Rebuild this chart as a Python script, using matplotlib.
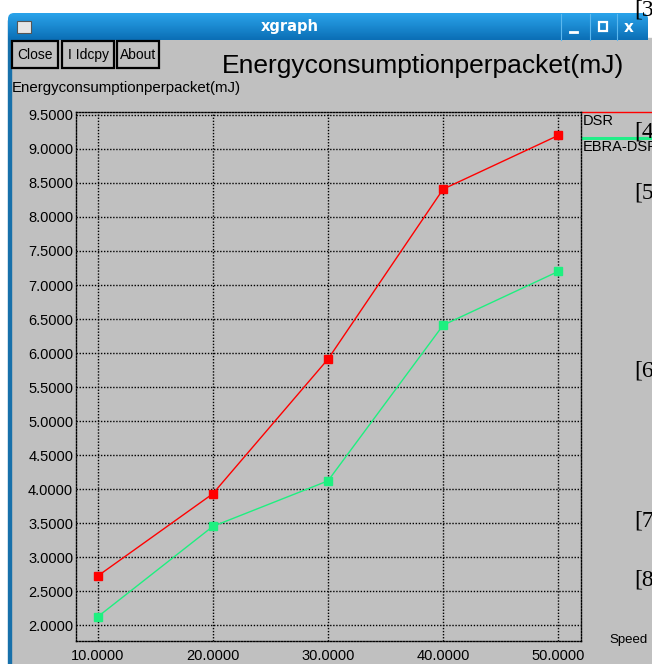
import numpy as np
import matplotlib
matplotlib.use("Agg")
import matplotlib.pyplot as plt
from matplotlib.patches import Rectangle, FancyBboxPatch

# data
speed = [10, 20, 30, 40, 50]
dsr = [2.72, 3.93, 5.91, 8.41, 9.20]
ebra_dsr = [2.12, 3.45, 4.12, 6.41, 7.20]
yticks = np.arange(2.0, 9.51, 0.5)
title = "Energyconsumptionperpacket(mJ)"

W, H = 652, 664
fig = plt.figure(figsize=(W / 100, H / 100), dpi=100, facecolor="white")

# window chrome drawn in pixel coords
bg = fig.add_axes([0, 0, 1, 1])
bg.set_xlim(0, W)
bg.set_ylim(H, 0)
bg.axis("off")
gray = "#c0c0c0"
bg.add_patch(Rectangle((10, 38), W - 10, H - 38, color=gray, zorder=1))
bg.add_patch(Rectangle((8, 20), 3, H - 20, color="#1770aa", zorder=2))

grad = np.linspace(0, 1, 30).reshape(-1, 1)
cmap = matplotlib.colors.LinearSegmentedColormap.from_list("tb", ["#2aa3ea", "#0b6fb6"])
im = bg.imshow(grad, cmap=cmap, extent=[8, 648, 40, 13], aspect="auto", zorder=3)
clip = FancyBboxPatch((8, 13), 640, 40, boxstyle="round,pad=0,rounding_size=6",
                      transform=bg.transData, facecolor="none", edgecolor="none")
bg.add_patch(clip)
im.set_clip_path(clip)
bg.set_xlim(0, W)
bg.set_ylim(H, 0)
bg.add_patch(Rectangle((17, 21), 14, 12, facecolor="#e6e6e6", edgecolor="#555555", lw=0.8, zorder=4))
bg.text(290, 27, "xgraph", color="white", fontsize=10.5, fontweight="bold",
        family="DejaVu Sans", ha="center", va="center", zorder=5)
for sx in [561, 590, 617]:
    bg.plot([sx, sx], [14, 40], color="#5cb8ee", lw=0.8, zorder=4)
bg.plot([570, 577], [32, 32], color="white", lw=2, zorder=5)
bg.add_patch(Rectangle((599, 22), 8, 9, facecolor="none", edgecolor="white", lw=1.6, zorder=5))
bg.text(629, 27, "x", color="white", fontsize=11, fontweight="bold", ha="center", va="center", zorder=5)

for x0, x1, lab in [(12, 58, "Close"), (62, 114, "I Idcpy"), (117, 159, "About")]:
    bg.add_patch(Rectangle((x0, 41), x1 - x0, 27, facecolor=gray, edgecolor="black", lw=1.6, zorder=4))
    bg.text((x0 + x1) / 2, 55, lab, fontsize=10, family="Liberation Sans", ha="center", va="center", zorder=5)

bg.text(423, 66, title, fontsize=19, family="Liberation Sans", ha="center", va="center", zorder=5)
bg.text(12, 88, title, fontsize=10.8, family="Liberation Sans", ha="left", va="center", zorder=5)

# legend at right
bg.plot([582, W], [112, 112], color="red", lw=1, zorder=5)
bg.text(583, 121, "DSR", fontsize=10.5, family="Liberation Sans", ha="left", va="center", zorder=5)
bg.plot([582, W], [138, 138], color="#22ee88", lw=2.2, zorder=5)
bg.text(583, 147, "EBRA-DSR", fontsize=10.5, family="Liberation Sans", ha="left", va="center", zorder=5)
bg.text(609, 640, "Speed", fontsize=9.5, family="Liberation Sans", ha="left", va="center", zorder=5)

# stray serif text from page behind
for yy, s in [(10, "[3"), (132, "[4"), (193, "[5"), (371, "[6"), (521, "[7"), (580, "[8")]:
    bg.text(634, yy, s, fontsize=17, family="Liberation Serif", ha="left", va="center", zorder=6)

# plot area
ax = fig.add_axes([76 / W, (H - 641) / H, (581 - 76) / W, (641 - 112) / H])
ax.set_facecolor("none")
ax.plot(speed, dsr, color="red", lw=1, marker="s", ms=6, zorder=3)
ax.plot(speed, ebra_dsr, color="#1ef080", lw=1, marker="s", ms=6, zorder=3)
ax.set_xlim(8.12, 51.97)
ax.set_ylim(1.765, 9.544)
ax.set_xticks(speed)
ax.set_yticks(yticks)
ax.set_xticklabels(["%.4f" % v for v in speed], family="Liberation Sans", fontsize=10.5)
ax.set_yticklabels(["%.4f" % v for v in yticks], family="Liberation Sans", fontsize=10.5)
ax.tick_params(length=0, pad=2)
ax.tick_params(axis="x", pad=6)
ax.grid(True, color="black", lw=1, linestyle=(0, (1, 1.2)))
for sp in ax.spines.values():
    sp.set_linestyle((0, (1, 1.2)))
    sp.set_linewidth(1)

fig.savefig("out.png", dpi=100, facecolor="white")
